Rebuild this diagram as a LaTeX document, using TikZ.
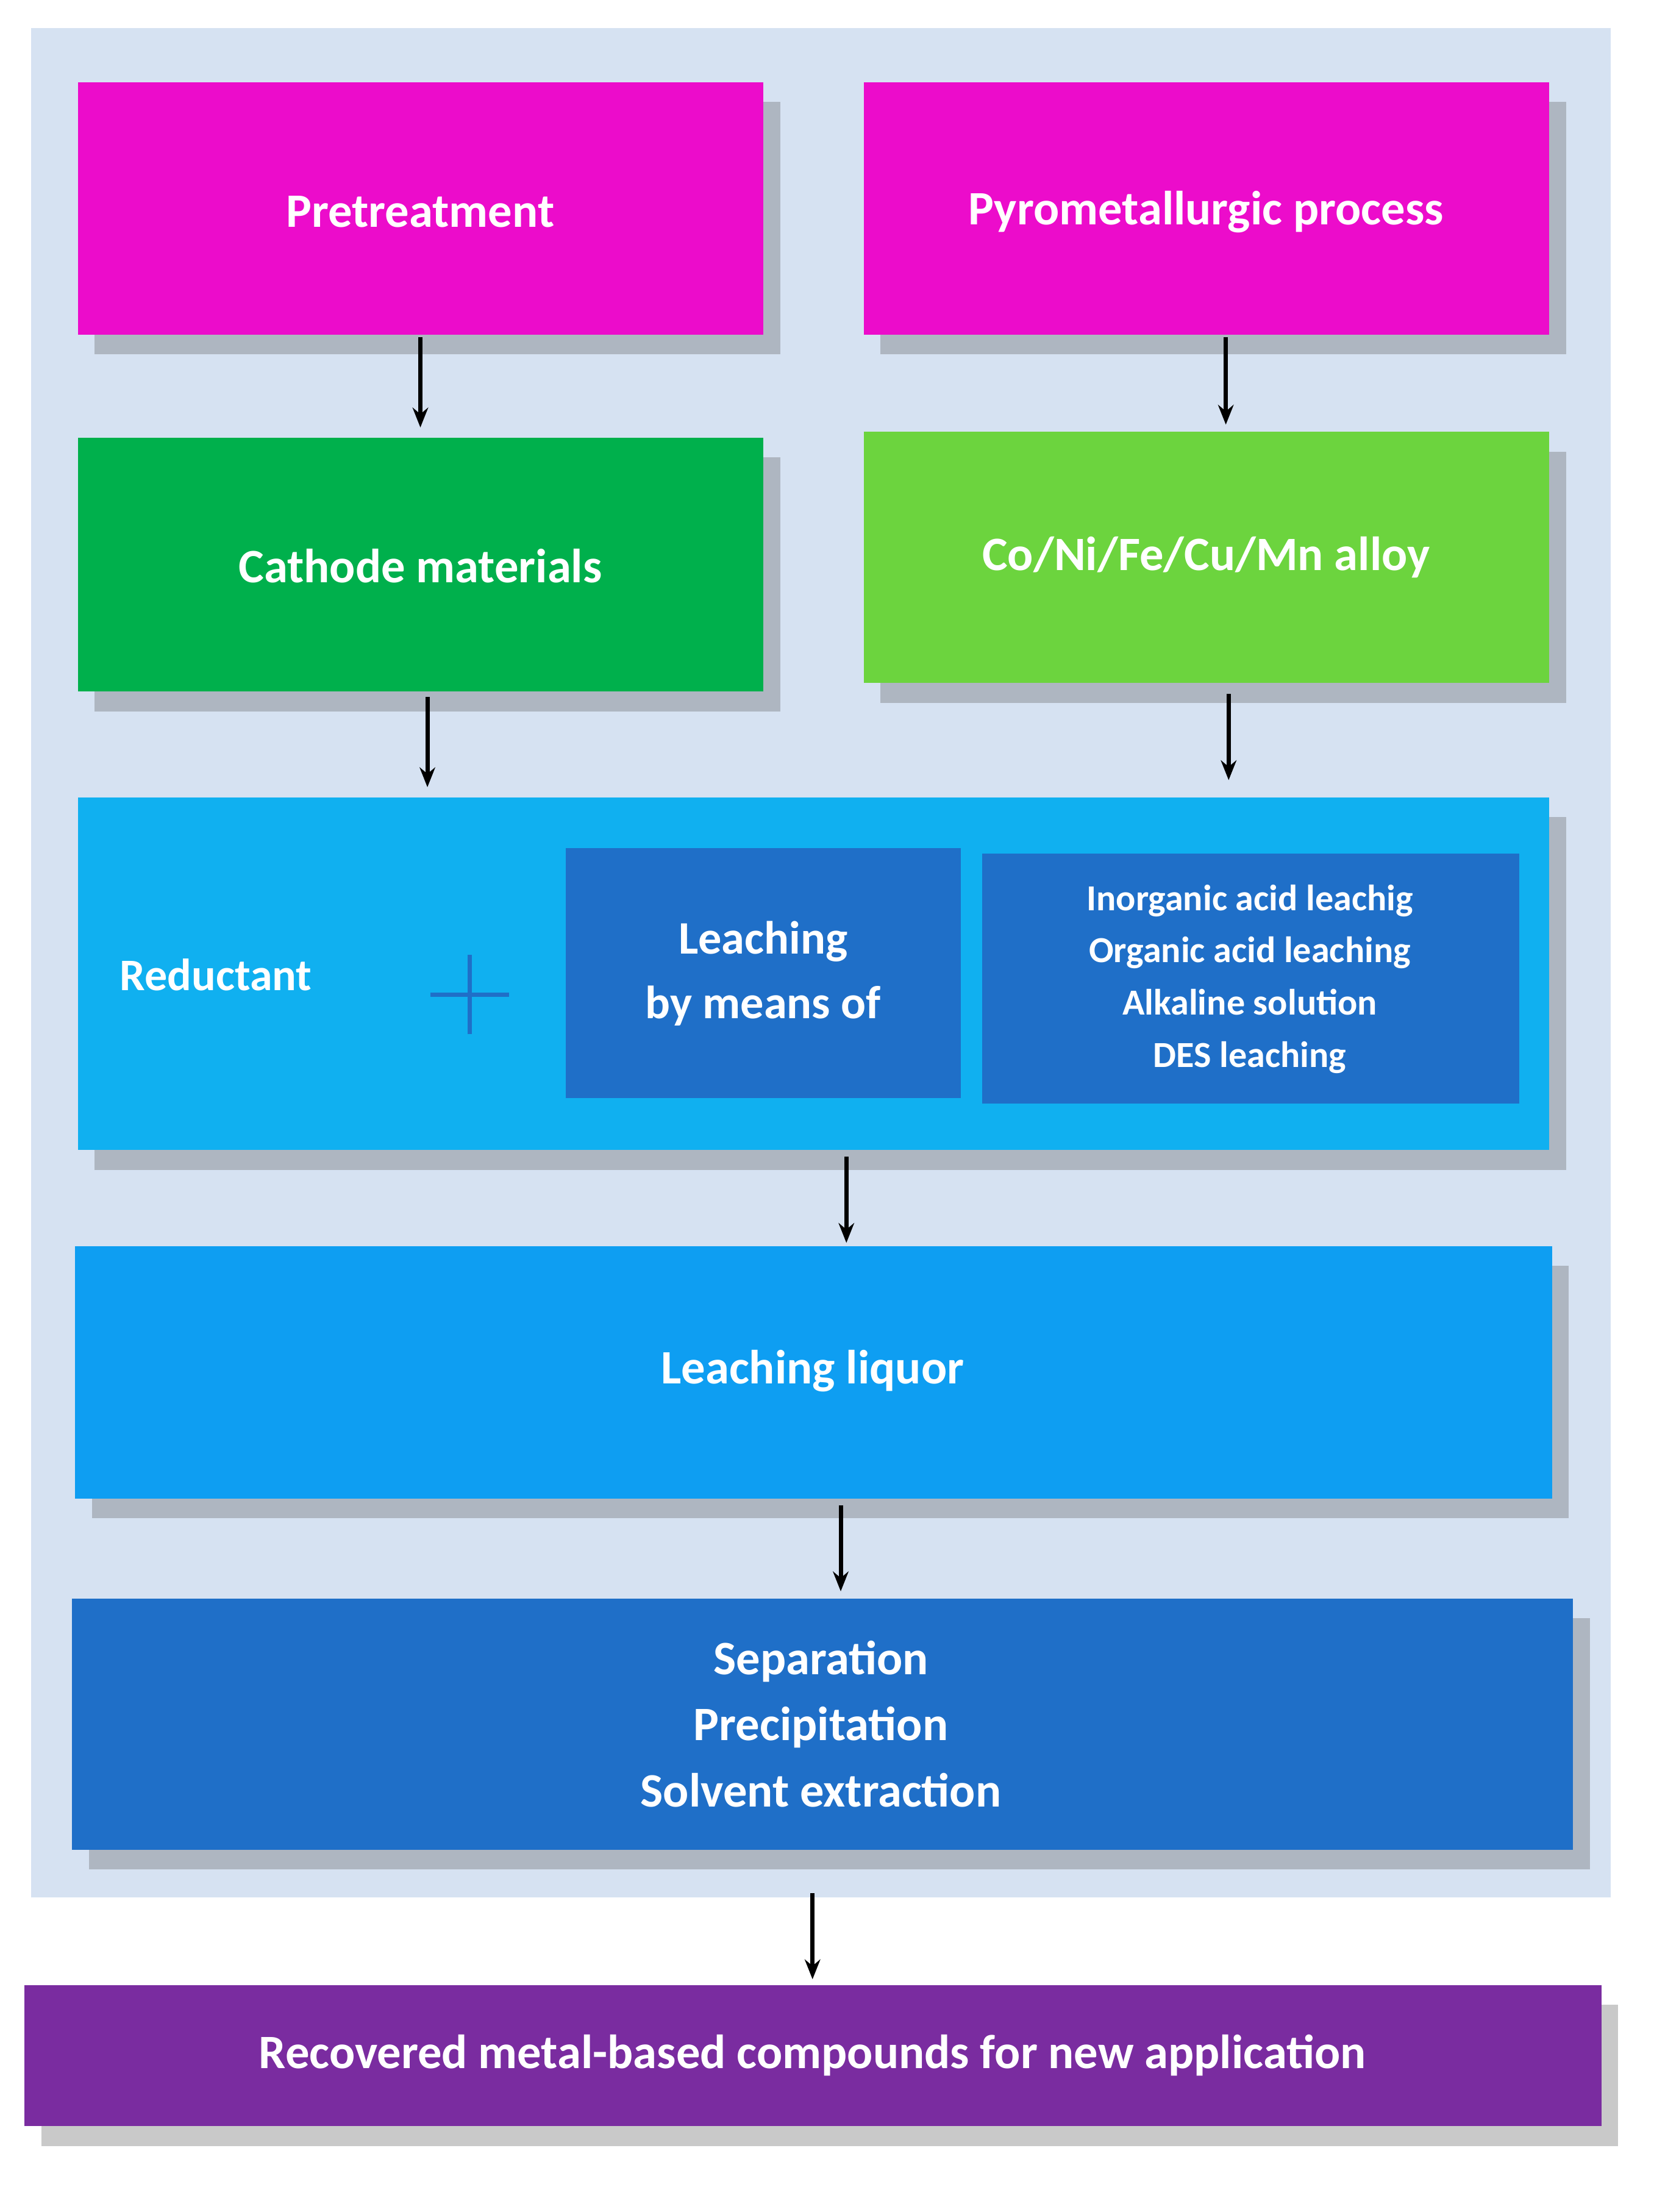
\documentclass[tikz,border=0pt]{standalone}
\usepackage{fontspec}
\setmainfont{Carlito}
\usetikzlibrary{shadows,arrows.meta}
\begin{document}
\begin{tikzpicture}[x=1pt,y=-1pt,
  box/.style={draw=none,anchor=north west,inner sep=0pt,text=white,font=\fontsize{34}{42}\selectfont\bfseries,align=center,
    drop shadow={shadow xshift=12pt,shadow yshift=-14pt,opacity=0.35,fill=black!60}},
  inner/.style={anchor=north west,inner sep=0pt,text=white,align=center,fill=dblue},
  arr/.style={-{Stealth[length=14pt,width=11pt]},line width=3pt,black,shorten >=4pt,shorten <=2pt}]
\definecolor{bg}{HTML}{D6E2F2}
\definecolor{mag}{HTML}{EC0CCB}
\definecolor{grn}{HTML}{00B04C}
\definecolor{lgrn}{HTML}{6CD43E}
\definecolor{cyan1}{HTML}{10B0F0}
\definecolor{dblue}{HTML}{1F6FC8}
\definecolor{purp}{HTML}{7A2CA0}
\useasboundingbox (0,0) rectangle (1190,1568);
\fill[white] (0,0) rectangle (1190,1568);
\fill[bg] (22,20) rectangle (1142,1345);
\node[box,fill=mag,minimum width=486pt,minimum height=179pt] (pre) at (55,58) {};
\node[text=white,font=\fontsize{34}{42}\selectfont\bfseries] at (298,150) {Pretreatment};
\node[box,fill=mag,minimum width=486pt,minimum height=179pt] (pyro) at (612,58) {};
\node[text=white,font=\fontsize{34}{42}\selectfont\bfseries] at (855,150) {Pyrometallurgic process};
\node[box,fill=grn,minimum width=486pt,minimum height=180pt] (cath) at (55,310) {};
\node[text=white,font=\fontsize{34}{42}\selectfont\bfseries] at (298,401) {Cathode materials};
\node[box,fill=lgrn,minimum width=486pt,minimum height=178pt] (alloy) at (612,306) {};
\node[text=white,font=\fontsize{34}{42}\selectfont\bfseries] at (855,395) {Co/Ni/Fe/Cu/Mn alloy};
\node[box,fill=cyan1,minimum width=1043pt,minimum height=250pt] (leach) at (55,565) {};
\node[text=white,font=\fontsize{32}{40}\selectfont\bfseries] (red) at (153,691) {Reductant};
\draw[dblue,line width=3pt] (305,705) -- (361,705) (333,677) -- (333,733);
\node[inner,minimum width=280pt,minimum height=177pt] (lbm) at (401,601) {};
\node[text=white,font=\fontsize{33}{46}\selectfont\bfseries,align=center] at (541,690) {Leaching\\by means of};
\node[inner,minimum width=381pt,minimum height=177pt] (types) at (696,605) {};
\node[text=white,font=\fontsize{26}{37}\selectfont\bfseries,align=center] at (886,694) {Inorganic acid leachig\\Organic acid leaching\\Alkaline solution\\DES leaching};
\node[box,fill=cyan1!90!blue,minimum width=1047pt,minimum height=179pt] (liq) at (53,883) {};
\node[text=white,font=\fontsize{34}{42}\selectfont\bfseries] at (576,972) {Leaching liquor};
\node[box,fill=dblue,minimum width=1064pt,minimum height=178pt] (sep) at (51,1133) {};
\node[text=white,font=\fontsize{34}{47}\selectfont\bfseries,align=center] at (582,1222) {Separation\\Precipitation\\Solvent extraction};
\node[box,fill=purp,minimum width=1118pt,minimum height=100pt] (rec) at (17,1407) {};
\node[text=white,font=\fontsize{34}{42}\selectfont\bfseries] at (576,1457) {Recovered metal-based compounds for new application};
\draw[arr] (298,237) -- (298,307);
\draw[arr] (869,237) -- (869,305);
\draw[arr] (303,492) -- (303,562);
\draw[arr] (871,490) -- (871,557);
\draw[arr] (600,818) -- (600,885);
\draw[arr] (596,1065) -- (596,1132);
\draw[arr] (576,1340) -- (576,1407);
\end{tikzpicture}
\end{document}
